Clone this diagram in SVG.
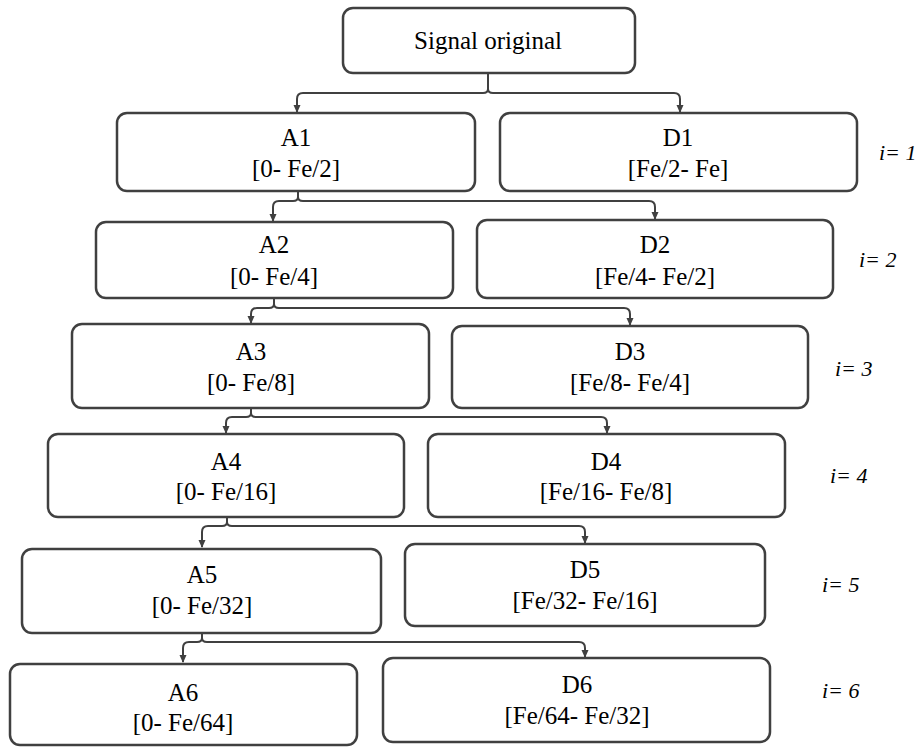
<svg xmlns="http://www.w3.org/2000/svg" width="915" height="747" viewBox="0 0 915 747">
<defs>
<marker id="ah" markerWidth="8" markerHeight="8" refX="7" refY="4" orient="auto" markerUnits="userSpaceOnUse">
<path d="M0,0.5 L8,4 L0,7.5 Z" fill="#404040"/>
</marker>
<style>
.box{fill:#fff;stroke:#404040;stroke-width:2.5}
.t{font-family:"Liberation Serif","DejaVu Serif","Times New Roman",serif;font-size:25px;fill:#000;text-anchor:middle}
.i{font-family:"Liberation Serif","DejaVu Serif","Times New Roman",serif;font-size:22px;font-style:italic;fill:#000}
.c{fill:none;stroke:#404040;stroke-width:2;marker-end:url(#ah)}
</style>
</defs>
<rect width="915" height="747" fill="#fff"/>
<g id="connectors">
<path class="c" d="M488,73 V89 Q488,93 483,93 H303 Q297,93 297,99 V112"/>
<path class="c" d="M488,89 Q488,93 493,93 H674 Q680,93 680,99 V112"/>
<path class="c" d="M298,191 V197 Q298,201 293,201 H279 Q273,201 273,207 V221"/>
<path class="c" d="M298,197 Q298,201 303,201 H649 Q655,201 655,207 V219"/>
<path class="c" d="M274,298 V304 Q274,308 269,308 H257 Q251,308 251,314 V323"/>
<path class="c" d="M274,304 Q274,308 279,308 H624 Q630,308 630,314 V325"/>
<path class="c" d="M251,408 V413 Q251,417 246,417 H232 Q226,417 226,423 V433"/>
<path class="c" d="M251,413 Q251,417 256,417 H601 Q607,417 607,423 V433"/>
<path class="c" d="M227,517 V522 Q227,526 222,526 H208 Q202,526 202,532 V547"/>
<path class="c" d="M227,522 Q227,526 232,526 H579 Q585,526 585,532 V543"/>
<path class="c" d="M202,633 V638 Q202,642 197,642 H189 Q183,642 183,648 V662"/>
<path class="c" d="M202,638 Q202,642 207,642 H579 Q585,642 585,648 V657"/>
</g>
<g id="signal"><rect class="box" x="343" y="8" width="292" height="65" rx="10"/><text class="t" x="488" y="49">Signal original</text></g>
<g id="A1"><rect class="box" x="117" y="113" width="358" height="78" rx="10"/><text class="t" x="296" y="146">A1</text><text class="t" x="296" y="177">[0- Fe/2]</text></g>
<g id="D1"><rect class="box" x="500" y="113" width="357" height="78" rx="10"/><text class="t" x="678" y="146">D1</text><text class="t" x="678" y="177">[Fe/2- Fe]</text></g>
<g id="A2"><rect class="box" x="96" y="222" width="357" height="76" rx="10"/><text class="t" x="274" y="253">A2</text><text class="t" x="274" y="285">[0- Fe/4]</text></g>
<g id="D2"><rect class="box" x="477" y="220" width="356" height="78" rx="10"/><text class="t" x="655" y="253">D2</text><text class="t" x="655" y="285">[Fe/4- Fe/2]</text></g>
<g id="A3"><rect class="box" x="72" y="324" width="357" height="84" rx="10"/><text class="t" x="251" y="360">A3</text><text class="t" x="251" y="391">[0- Fe/8]</text></g>
<g id="D3"><rect class="box" x="452" y="326" width="356" height="82" rx="10"/><text class="t" x="630" y="360">D3</text><text class="t" x="630" y="391">[Fe/8- Fe/4]</text></g>
<g id="A4"><rect class="box" x="48" y="434" width="356" height="83" rx="10"/><text class="t" x="226" y="470">A4</text><text class="t" x="226" y="500">[0- Fe/16]</text></g>
<g id="D4"><rect class="box" x="428" y="434" width="357" height="83" rx="10"/><text class="t" x="606" y="470">D4</text><text class="t" x="606" y="500">[Fe/16- Fe/8]</text></g>
<g id="A5"><rect class="box" x="22" y="549" width="359" height="84" rx="10"/><text class="t" x="202" y="583">A5</text><text class="t" x="202" y="614">[0- Fe/32]</text></g>
<g id="D5"><rect class="box" x="405" y="544" width="360" height="82" rx="10"/><text class="t" x="585" y="578">D5</text><text class="t" x="585" y="609">[Fe/32- Fe/16]</text></g>
<g id="A6"><rect class="box" x="10" y="664" width="347" height="81" rx="10"/><text class="t" x="183" y="701">A6</text><text class="t" x="183" y="731">[0- Fe/64]</text></g>
<g id="D6"><rect class="box" x="383" y="658" width="387" height="84" rx="10"/><text class="t" x="577" y="693">D6</text><text class="t" x="577" y="724">[Fe/64- Fe/32]</text></g>
<g id="levels">
<text class="i" x="879" y="160">i= 1</text>
<text class="i" x="859" y="267">i= 2</text>
<text class="i" x="835" y="376">i= 3</text>
<text class="i" x="830" y="483">i= 4</text>
<text class="i" x="822" y="592">i= 5</text>
<text class="i" x="822" y="698">i= 6</text>
</g>
</svg>
